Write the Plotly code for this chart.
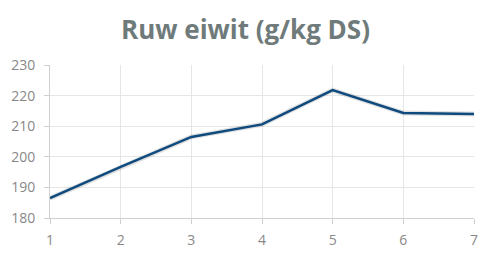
import plotly.graph_objects as go

x_vals = [1, 2, 3, 4, 5, 6, 7]
eiwit = [186.5, 196.7, 206.5, 210.6, 221.8, 214.3, 214.0]
y_ticks = [180, 190, 200, 210, 220, 230]

fig = go.Figure()
fig.add_trace(go.Scatter(x=x_vals, y=eiwit, mode="lines",
                         line=dict(color="rgba(0,0,0,0.12)", width=5),
                         hoverinfo="skip", showlegend=False))
fig.add_trace(go.Scatter(x=x_vals, y=eiwit, mode="lines",
                         line=dict(color="#0e4a7e", width=2.5),
                         showlegend=False))

fig.update_layout(
    width=491, height=259,
    margin=dict(l=50, r=17, t=65, b=41),
    paper_bgcolor="white", plot_bgcolor="white",
    title=dict(text="<b>Ruw eiwit (g/kg DS)</b>", x=0.5, xanchor="center",
               y=0.885, yanchor="middle",
               font=dict(family="Open Sans, sans-serif", size=26, color="#6f7b7a")),
    xaxis=dict(range=[1, 7], tickvals=x_vals, showgrid=True, gridcolor="#e6e6e6",
               showline=True, linecolor="#cfcfcf", ticks="outside", ticklen=5,
               tickcolor="#cfcfcf", zeroline=False, ticklabelstandoff=4, automargin=False,
               tickfont=dict(family="Open Sans, sans-serif", size=14, color="#888888")),
    yaxis=dict(range=[180, 230], tickvals=y_ticks, showgrid=True, gridcolor="#e6e6e6",
               showline=True, linecolor="#cfcfcf", ticks="outside", ticklen=5,
               tickcolor="#cfcfcf", zeroline=False, ticklabelstandoff=6, automargin=False,
               tickfont=dict(family="Open Sans, sans-serif", size=14, color="#888888")),
)

fig.write_html("out.html")
